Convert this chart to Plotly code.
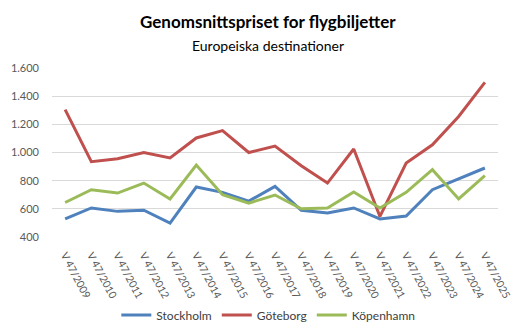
import plotly.graph_objects as go

years = list(range(2009, 2026))
categories = [f"V 47/{y}" for y in years]
stockholm = [528, 606, 582, 590, 499, 755, 717, 655, 759, 590, 570, 606, 528, 549, 736, 814, 890]
goteborg = [1304, 935, 956, 1000, 961, 1103, 1155, 1000, 1046, 906, 783, 1025, 546, 925, 1055, 1256, 1498]
kopenhamn = [645, 736, 712, 783, 670, 911, 700, 641, 698, 600, 606, 719, 606, 717, 878, 670, 835]
yticks = [400, 600, 800, 1000, 1200, 1400, 1600]
ytick_text = ["400", "600", "800", "1.000", "1.200", "1.400", "1.600"]

FONT = "Lato"
fig = go.Figure()
for name, vals, col in [("Stockholm", stockholm, "#4F81BD"),
                        ("Göteborg", goteborg, "#C0504D"),
                        ("Köpenhamn", kopenhamn, "#9BBB59")]:
    fig.add_trace(go.Scatter(x=categories, y=vals, mode="lines", name=name,
                             line=dict(color=col, width=3)))

fig.update_layout(
    width=523, height=335,
    margin=dict(l=52, r=25, t=68, b=98, autoexpand=False),
    paper_bgcolor="white", plot_bgcolor="white",
    font=dict(family=FONT, size=11, color="#595959"),
    showlegend=True,
    legend=dict(orientation="h", x=0.485, xanchor="center",
                yref="container", y=1 - 315 / 335, yanchor="middle",
                font=dict(size=12, color="#404040"), itemwidth=30,
                tracegroupgap=0),
)
fig.add_annotation(text="<b>Genomsnittspriset for flygbiljetter</b>", xref="paper", yref="paper",
                   x=0.485, y=1.0 + (68 - 22) / 169, showarrow=False,
                   font=dict(size=17, color="black", family=FONT), xanchor="center", yanchor="middle")
fig.add_annotation(text="Europeiska destinationer", xref="paper", yref="paper",
                   x=0.485, y=1.0 + (68 - 45) / 169, showarrow=False,
                   font=dict(size=14, color="black", family=FONT), xanchor="center", yanchor="middle")

fig.update_xaxes(type="category", range=[-0.5, len(categories) - 0.5], automargin=False,
                 showgrid=False, showline=False, ticks="", ticklabelstandoff=9,
                 tickangle=62, tickfont=dict(size=10.5, color="#595959"))
fig.update_yaxes(range=[400, 1600], tickvals=yticks, ticktext=ytick_text, automargin=False,
                 showgrid=True, gridcolor="#D9D9D9", gridwidth=1, zeroline=False,
                 showline=False, ticks="", ticklabelstandoff=12,
                 tickfont=dict(size=11, color="#595959"))

fig.write_html("out.html")
